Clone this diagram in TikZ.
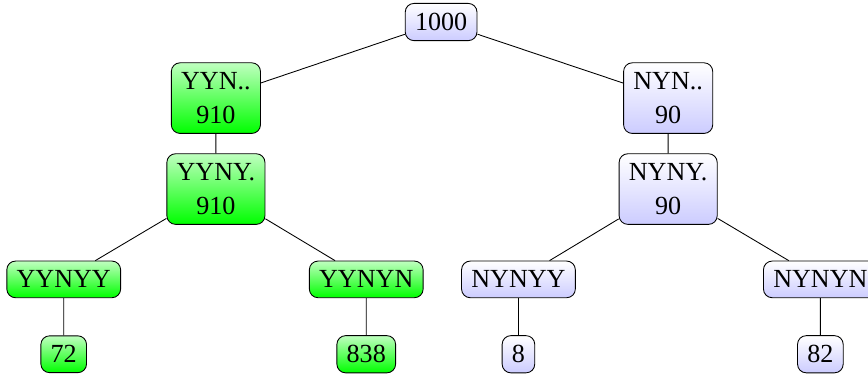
\documentclass[tikz,border=0pt]{standalone}
\usepackage{fontspec}
\setmainfont{Liberation Serif}
\usepackage{tikz}
\usetikzlibrary{positioning}
\tikzset{
	thin,
	every node/.style={draw, rounded corners=4pt, align=center, inner sep=4.5pt,
		font=\fontsize{12}{15.5}\selectfont,
		top color=white, bottom color=blue!20},
	picked/.style={top color=green!25, bottom color=green},
}

\begin{document}
\begin{tikzpicture}
	\useasboundingbox (-7.13,0.356) rectangle (6.90,-5.69);
	\node (0) at (0,0) {1000};
	\node[picked] (1) at (-3.64,-1.23) {YYN..\\910};
	\node (2) at (3.67,-1.23) {NYN..\\90};
	\node[picked] (3) at (-3.64,-2.70) {YYNY.\\910};
	\node (4) at (3.67,-2.70) {NYNY.\\90};
	\node[picked] (5) at (-6.10,-4.16) {YYNYY};
	\node[picked] (6) at (-1.21,-4.16) {YYNYN};
	\node (7) at (1.25,-4.16) {NYNYY};
	\node (8) at (6.13,-4.16) {NYNYN};
	\node[picked] (9) at (-6.10,-5.37) {72};
	\node[picked] (10) at (-1.21,-5.37) {838};
	\node (11) at (1.25,-5.37) {8};
	\node (12) at (6.13,-5.37) {82};

	\draw 	(0) -- (1)
			(0) -- (2)
			(1) -- (3)
			(2) -- (4)
			(3) -- (5)
			(3) -- (6)
			(4) -- (7)
			(4) -- (8)
			(5) -- (9)
			(6) -- (10)
			(7) -- (11)
			(8) -- (12);
\end{tikzpicture}
\end{document}
